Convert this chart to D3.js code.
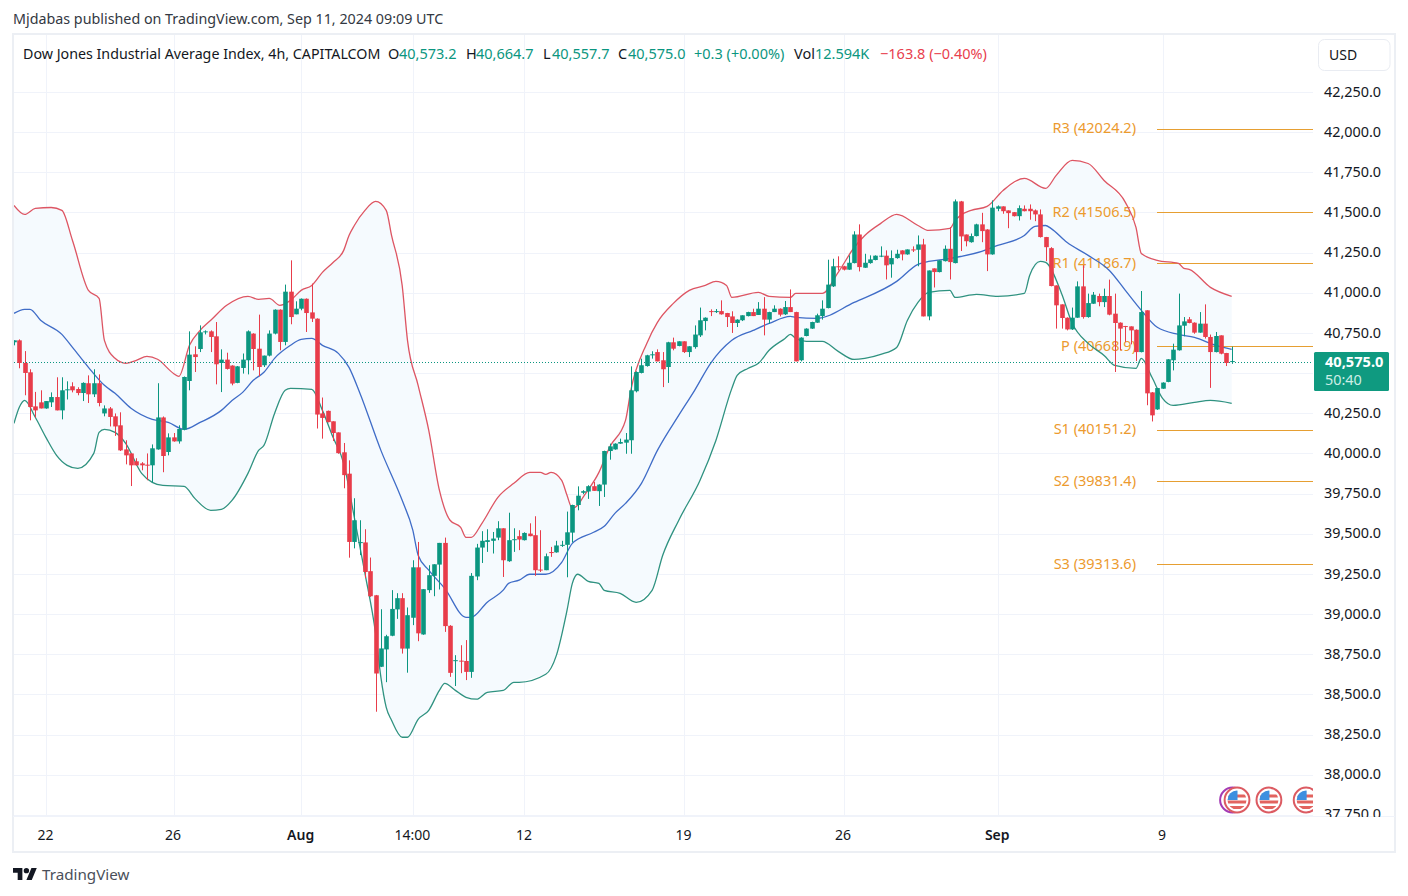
<!DOCTYPE html>
<html>
<head>
<meta charset="utf-8">
<title>Dow Jones 4h</title>
<script src="https://cdn.jsdelivr.net/npm/d3@7"></script>
<style>
  html, body { margin: 0; background: #fff; }
  svg { display: block; }
  text { font-family: "Noto Sans", sans-serif; }
</style>
</head>
<body>
<script>
var opens = [
  40692,40704,40563,40505,40293,40318,40280,40318,40351,40268,
  40396,40418,40401,40376,40437,40368,40437,40249,40280,40231,
  40175,40025,40000,39951,39938,39930,39926,40025,40224,40009,
  40100,40075,40148,40451,40617,40650,40754,40760,40729,40563,
  40584,40547,40439,40532,40580,40746,40652,40549,40609,40746,
  40895,40694,41007,40866,40901,40963,40878,40839,40249,40265,
  40200,40131,40007,39874,39449,39444,39446,39267,39117,38672,
  38780,38865,39029,39099,38785,38977,39291,38873,39149,39238,
  39308,39443,38927,38710,38710,38708,38640,39234,39414,39449,
  39456,39476,39534,39329,39463,39485,39460,39501,39491,39277,
  39273,39386,39384,39429,39431,39507,39679,39755,39763,39796,
  39765,39806,40015,40025,40061,40067,40082,40387,40501,40544,
  40611,40631,40580,40538,40692,40669,40698,40631,40662,40735,
  40824,40886,40884,40886,40874,40853,40812,40829,40855,40880,
  40862,40901,40833,40880,40901,40866,40911,40880,40580,40731,
  40777,40814,40855,40905,41040,41165,41165,41144,41185,41363,
  41156,41185,41204,41230,41231,41177,41216,41264,41239,41270,
  41268,41301,40853,41152,41129,41197,41274,41185,41569,41363,
  41315,41353,41426,41394,41239,41523,41538,41513,41502,41477,
  41523,41523,41513,41488,41347,41278,41046,40928,40845,40772,
  40845,41040,40849,40932,40980,40942,40980,40870,40814,40793,
  40791,40770,40631,40891,40380,40274,40403,40445,40580,40642,
  40795,40835,40814,40752,40808,40725,40631,40735,40625,40573.2];

var highs = [
  40704,40710,40637,40524,40383,40393,40326,40380,40474,40474,
  40449,40443,40412,40443,40486,40524,40492,40299,40289,40249,
  40256,40082,40002,39970,39946,40000,40056,40437,40230,40125,
  40127,40175,40479,40760,40667,40797,40766,40766,40818,40648,
  40627,40549,40544,40622,40766,40748,40864,40609,40766,40897,
  40897,41051,41202,40947,40965,40965,41057,40841,40348,40267,
  40200,40131,40065,39957,39721,39584,39528,39352,39119,39030,
  38871,39149,39130,39130,39041,39335,39449,39155,39304,39310,
  39443,39476,38931,38744,38806,38838,39255,39437,39516,39528,
  39511,39578,39534,39631,39534,39522,39509,39565,39609,39522,
  39377,39418,39456,39456,39638,39681,39795,39771,39802,39822,
  39808,40017,40061,40063,40092,40127,40542,40511,40590,40614,
  40636,40648,40631,40695,40721,40698,40698,40667,40797,40908,
  40847,40897,40899,40953,40875,40885,40835,40860,40882,40901,
  40942,40973,40882,40922,40903,40949,41021,40882,40723,40779,
  40820,40870,40953,41206,41212,41227,41168,41233,41383,41426,
  41243,41233,41233,41289,41264,41264,41268,41265,41270,41289,
  41357,41336,41139,41152,41202,41295,41409,41581,41572,41363,
  41369,41430,41498,41396,41575,41544,41538,41513,41503,41544,
  41544,41550,41519,41519,41348,41284,41046,40928,40847,40908,
  41071,41171,40995,41005,40995,41026,41082,40995,40816,40794,
  40791,40772,41011,40891,40382,40408,40443,40587,40683,40995,
  40849,40849,40816,40880,40928,40740,40756,40735,40626,40664.7];

var lows = [
  40673,40530,40362,40206,40224,40280,40278,40289,40268,40212,
  40336,40380,40362,40326,40314,40351,40293,40231,40168,40109,
  40015,39932,39797,39924,39895,39833,39820,40023,39883,39988,
  40073,40061,40144,40393,40507,40631,40741,40631,40430,40382,
  40522,40424,40437,40497,40492,40517,40480,40538,40604,40741,
  40642,40673,40804,40866,40891,40756,40818,40155,40092,40193,
  40077,39998,39783,39351,39409,39367,39224,39107,38392,38670,
  38576,38862,38970,38754,38635,38931,38831,38871,39132,39111,
  39153,38889,38609,38552,38632,38589,38603,39211,39318,39387,
  39377,39460,39231,39325,39387,39398,39458,39484,39238,39262,
  39273,39356,39382,39418,39229,39446,39646,39746,39717,39767,
  39673,39729,39961,40023,40060,39998,39998,40380,40498,40540,
  40590,40573,40413,40439,40642,40667,40625,40600,40652,40725,
  40766,40855,40874,40864,40787,40750,40787,40824,40853,40855,
  40862,40735,40808,40880,40853,40862,40880,40573,40573,40729,
  40775,40813,40833,40903,41036,41139,41139,41143,41183,41133,
  41155,41181,41202,41222,41083,41094,41212,41202,41237,41254,
  41165,40853,40829,41033,41127,41195,41083,41183,41260,41289,
  41312,41351,41315,41135,41237,41508,41492,41402,41475,41450,
  41507,41455,41446,41344,41197,41040,40777,40777,40766,40769,
  40844,40839,40845,40931,40916,40911,40860,40507,40642,40694,
  40679,40575,40629,40300,40199,40271,40402,40443,40517,40640,
  40729,40810,40745,40751,40715,40408,40629,40617,40544,40557.7];

var closes = [
  40704,40563,40501,40289,40268,40280,40326,40351,40268,40393,
  40399,40393,40376,40439,40368,40437,40314,40280,40227,40168,
  40019,39988,39926,39926,39926,39924,40032,40224,39984,40100,
  40075,40152,40476,40615,40600,40754,40760,40725,40555,40584,
  40526,40435,40542,40584,40760,40650,40538,40609,40746,40895,
  40694,41007,40849,40901,40963,40874,40839,40242,40221,40195,
  40127,40002,39865,39449,39584,39448,39262,39111,38630,38786,
  38862,39032,39099,38785,38993,39291,38880,39155,39242,39310,
  39443,38925,38634,38713,38707,38640,39238,39414,39456,39460,
  39470,39534,39335,39460,39466,39464,39505,39485,39273,39276,
  39360,39380,39427,39431,39509,39679,39737,39765,39796,39767,
  39806,40015,40044,40061,40071,40086,40393,40507,40549,40611,
  40617,40573,40524,40692,40652,40698,40631,40667,40740,40829,
  40845,40884,40886,40866,40849,40812,40833,40860,40880,40855,
  40901,40833,40880,40901,40864,40911,40880,40573,40721,40777,
  40818,40860,40901,41051,41165,41162,41144,41187,41363,41160,
  41187,41208,41231,41231,41171,41216,41243,41239,41270,41267,
  41301,40853,41139,41129,41202,41274,41191,41569,41351,41321,
  41353,41426,41384,41239,41530,41538,41508,41496,41477,41527,
  41508,41508,41488,41347,41284,41042,40922,40843,40772,40845,
  41040,40849,40936,40988,40942,40980,40864,40812,40777,40789,
  40766,40631,40880,40374,40237,40407,40441,40586,40646,40797,
  40822,40812,40752,40808,40725,40631,40731,40621,40563,40575.0];

var bbUpper = [[0,41544],[2,41488],[4,41525],[7,41531],[9,41513],[11,41326],[14,41015],[16,40965],[17,40704],[19,40592],
  [21,40561],[23,40580],[25,40604],[27,40586],[30,40498],[31,40480],[33,40673],[35,40766],[37,40829],[40,40922],
  [44,40978],[46,40959],[48,40965],[50,40922],[52,40953],[54,41015],[56,41046],[58,41127],[60,41189],[62,41264],
  [63,41357],[64,41419],[66,41513],[68,41569],[70,41513],[71,41357],[73,41046],[74,40704],[76,40424],[78,40144],
  [80,39771],[82,39584],[84,39540],[85,39478],[86,39478],[88,39565],[91,39727],[94,39814],[97,39882],[99,39882],
  [100,39870],[101,39882],[103,39832],[104,39739],[105,39658],[106,39677],[107,39727],[110,39882],[112,40038],[115,40206],
  [116,40393],[119,40685],[121,40816],[124,40934],[127,41015],[130,41046],[132,41071],[134,41046],[135,40971],[140,41002],
  [142,40978],[146,40971],[147,40996],[152,40996],[155,41127],[158,41282],[160,41357],[163,41432],[166,41488],[170,41419],
  [172,41388],[176,41401],[177,41450],[178,41482],[180,41513],[183,41538],[186,41637],[190,41712],[194,41650],[196,41731],
  [199,41824],[202,41805],[205,41699],[209,41563],[211,41407],[212,41245],[215,41202],[219,41183],[220,41152],[221,41146],
  [225,41034],[229,40978]];

var bbBasis = [[0,40872],[2,40897],[3,40897],[5,40829],[9,40741],[11,40660],[14,40536],[17,40424],[19,40374],[22,40281],
  [26,40212],[29,40193],[32,40150],[35,40193],[39,40268],[41,40330],[43,40380],[45,40455],[47,40505],[49,40592],
  [52,40673],[54,40710],[56,40716],[58,40673],[61,40623],[63,40536],[65,40380],[69,40019],[73,39708],[75,39522],
  [76,39366],[78,39273],[81,39160],[85,38980],[86,38980],[89,39074],[92,39149],[93,39191],[95,39211],[97,39248],
  [100,39248],[103,39322],[105,39440],[109,39509],[111,39546],[113,39627],[115,39689],[118,39814],[121,40019],[125,40237],
  [128,40393],[131,40561],[135,40704],[139,40766],[142,40809],[146,40853],[147,40847],[151,40841],[158,40940],[166,41071],
  [170,41177],[172,41195],[175,41208],[178,41226],[182,41258],[185,41295],[190,41357],[192,41413],[194,41419],[195,41401],
  [198,41314],[202,41233],[206,41139],[209,41015],[212,40891],[215,40785],[219,40741],[222,40722],[226,40673],[229,40648]];

var bbLower = [[0,40187],[1,40287],[2,40330],[4,40225],[6,40100],[8,39988],[10,39926],[12,39907],[15,40000],[16,40131],
  [17,40150],[19,40131],[21,40063],[24,39876],[26,39820],[28,39801],[32,39795],[34,39720],[37,39646],[39,39652],
  [41,39708],[44,39876],[46,40019],[47,40050],[49,40249],[51,40393],[52,40405],[56,40399],[58,40268],[60,40100],
  [62,39938],[64,39602],[66,39254],[68,38880],[69,38606],[70,38419],[71,38339],[73,38233],[74,38233],[76,38345],
  [78,38401],[80,38525],[81,38569],[83,38525],[85,38482],[87,38470],[89,38513],[92,38525],[94,38575],[95,38575],
  [100,38625],[102,38743],[104,39023],[105,39191],[106,39248],[108,39204],[110,39191],[111,39148],[114,39129],[117,39073],
  [120,39148],[122,39366],[125,39583],[129,39832],[132,40081],[135,40405],[136,40486],[138,40529],[140,40561],[142,40642],
  [145,40716],[146,40741],[147,40716],[149,40697],[152,40697],[155,40635],[158,40585],[160,40592],[163,40617],[166,40660],
  [168,40828],[170,40940],[172,41002],[176,41015],[177,40971],[181,40990],[185,40978],[190,40996],[191,41108],[193,41195],
  [194,41189],[197,40996],[199,40810],[202,40685],[205,40610],[207,40548],[211,40529],[212,40592],[214,40474],[216,40343],
  [218,40299],[222,40318],[225,40330],[229,40312]];

var pivotNames = ["R3", "R2", "R1", "P", "S1", "S2", "S3"];
var pivotValues = [42024.2, 41506.5, 41186.7, 40668.9, 40151.2, 39831.4, 39313.6];

var priceTicks = d3.range(37750, 42251, 250);
var hiddenTick = 40500; // sits behind the last price tag
var timeIndex = [6, 30, 54, 75, 96, 126, 156, 185, 216];
var timeLabels = ["22", "26", "Aug", "14:00", "12", "19", "26", "Sep", "9"];
var boldLabels = ["Aug", "Sep"];
var eventIndex = [230, 236, 243];
var lastPrice = 40575.0;

var upColor = "#0b9680", downColor = "#e83c4a", gridColor = "#f0f3fa", textColor = "#131722";
var pivotColor = "#e69f32";

var svg = d3.select("body").append("svg").attr("width", 1408).attr("height", 896);

var x = d3.scaleLinear().domain([0, 229]).range([14, 1231.7]);
var y = d3.scaleLinear().domain([42250, 38000]).range([92, 774.7]);

var defs = svg.append("defs");
defs.append("clipPath").attr("id", "pane").append("rect")
  .attr("x", 14).attr("y", 35).attr("width", 1299).attr("height", 781);
defs.append("clipPath").attr("id", "priceClip").append("rect")
  .attr("x", 1313).attr("y", 72).attr("width", 80).attr("height", 745);

// frame
svg.append("rect").attr("x", 13).attr("y", 34).attr("width", 1382).attr("height", 818)
  .attr("fill", "#fff").attr("stroke", "#eceff4").attr("stroke-width", 2);
svg.append("line").attr("x1", 13).attr("x2", 1395).attr("y1", 816.5).attr("y2", 816.5)
  .attr("stroke", gridColor);

var pane = svg.append("g").attr("clip-path", "url(#pane)");

// grid
pane.selectAll(".hgrid").data(priceTicks).enter().append("line").attr("class", "hgrid")
  .attr("x1", 14).attr("x2", 1313)
  .attr("y1", function (d) { return Math.round(y(d)) + 0.5; })
  .attr("y2", function (d) { return Math.round(y(d)) + 0.5; })
  .attr("stroke", gridColor);
pane.selectAll(".vgrid").data(timeIndex).enter().append("line").attr("class", "vgrid")
  .attr("x1", function (d) { return Math.round(x(d)) + 0.5; })
  .attr("x2", function (d) { return Math.round(x(d)) + 0.5; })
  .attr("y1", 35).attr("y2", 816)
  .attr("stroke", gridColor);

// band fill
var bandLine = d3.line()
  .x(function (d) { return x(d[0]); })
  .y(function (d) { return y(d[1]); });
pane.append("path")
  .attr("d", bandLine(bbUpper.concat(bbLower.slice().reverse())) + "Z")
  .attr("fill", "#f5fafe");

// pivots sit under the candles
pane.selectAll(".pivot").data(pivotValues).enter().append("line").attr("class", "pivot")
  .attr("x1", 1157).attr("x2", 1313)
  .attr("y1", function (d) { return Math.round(y(d) + 0.5) + 0.5; })
  .attr("y2", function (d) { return Math.round(y(d) + 0.5) + 0.5; })
  .attr("stroke", pivotColor).attr("stroke-width", 1.2);
pane.selectAll(".pivotLabel").data(pivotValues).enter().append("text").attr("class", "pivotLabel")
  .attr("x", 1136)
  .attr("y", function (d) { return y(d); })
  .attr("dy", "0.36em")
  .attr("text-anchor", "end")
  .attr("font-size", 14.5)
  .attr("fill", "#ec9a2e")
  .text(function (d, i) { return pivotNames[i] + " (" + d + ")"; });

// band lines
var curved = d3.line()
  .x(function (d) { return x(d[0]); })
  .y(function (d) { return y(d[1]); })
  .curve(d3.curveMonotoneX);
[[bbUpper, "#dd5563"], [bbBasis, "#3f6cc7"], [bbLower, "#2f9280"]].forEach(function (b) {
  pane.append("path").attr("d", curved(b[0])).attr("fill", "none")
    .attr("stroke", b[1]).attr("stroke-width", 1.3);
});

// last price line
pane.append("line")
  .attr("x1", 14).attr("x2", 1313)
  .attr("y1", Math.round(y(lastPrice) + 0.5) + 0.5).attr("y2", Math.round(y(lastPrice) + 0.5) + 0.5)
  .attr("stroke", upColor).attr("stroke-dasharray", "1,2");

// candles
var bars = d3.range(closes.length);
var colorOf = function (i) { return closes[i] >= opens[i] ? upColor : downColor; };
pane.selectAll(".wick").data(bars).enter().append("line").attr("class", "wick")
  .attr("x1", function (i) { return Math.round(x(i)) + 0.5; })
  .attr("x2", function (i) { return Math.round(x(i)) + 0.5; })
  .attr("y1", function (i) { return y(highs[i]); })
  .attr("y2", function (i) { return y(lows[i]); })
  .attr("stroke", colorOf);
pane.selectAll(".body").data(bars).enter().append("rect").attr("class", "body")
  .attr("x", function (i) { return Math.round(x(i)) + 0.5 - 2.3; })
  .attr("width", 4.6)
  .attr("y", function (i) { return y(Math.max(opens[i], closes[i])); })
  .attr("height", function (i) { return Math.max(1, Math.abs(y(opens[i]) - y(closes[i]))); })
  .attr("fill", colorOf);

// event flags
function drawFlag(g) {
  g.append("circle").attr("r", 12.4).attr("fill", "#fff").attr("stroke", "#dc5b62").attr("stroke-width", 2);
  var inner = g.append("g").attr("clip-path", "url(#flagClip)");
  inner.append("rect").attr("x", -10).attr("y", -10).attr("width", 20).attr("height", 20).attr("fill", "#fff");
  [-5.5, 0.5, 6].forEach(function (s) {
    inner.append("rect").attr("x", -10).attr("y", s).attr("width", 20).attr("height", 3).attr("fill", "#e2635f");
  });
  inner.append("rect").attr("x", -10).attr("y", -10).attr("width", 10.5).attr("height", 10).attr("fill", "#3d8fe0");
}
defs.append("clipPath").attr("id", "flagClip").append("circle").attr("r", 9.5);
pane.append("circle").attr("cx", x(eventIndex[0]) - 4.5).attr("cy", 800).attr("r", 12.4)
  .attr("fill", "#fff").attr("stroke", "#a43bb4").attr("stroke-width", 2);
eventIndex.forEach(function (d) {
  drawFlag(pane.append("g").attr("transform", "translate(" + x(d) + ",800)"));
});

// price axis
var priceAxis = svg.append("g").attr("clip-path", "url(#priceClip)").append("g")
  .attr("transform", "translate(1324,-0.5)")
  .call(d3.axisRight(y).tickValues(priceTicks.filter(function (d) { return d !== hiddenTick; }))
    .tickFormat(d3.format(",.1f")).tickSize(0).tickPadding(0));
priceAxis.select(".domain").remove();
priceAxis.selectAll("text").attr("font-size", 14.4).attr("fill", textColor)
  .style("font-family", '"Noto Sans", sans-serif');

// time axis
var timeAxis = svg.append("g")
  .attr("transform", "translate(-1,830)")
  .call(d3.axisBottom(x).tickValues(timeIndex).tickFormat(function (d, i) { return timeLabels[i]; }).tickSize(0).tickPadding(0));
timeAxis.select(".domain").remove();
timeAxis.selectAll("text").attr("font-size", 14).attr("fill", textColor)
  .style("font-family", '"Noto Sans", sans-serif')
  .attr("font-weight", function (d, i) { return boldLabels.indexOf(timeLabels[i]) >= 0 ? 600 : 400; });

// last price tag
svg.append("rect").attr("x", 1314).attr("y", 352).attr("width", 75).attr("height", 39).attr("rx", 1.5).attr("fill", "#0f9a80");
svg.append("text").attr("x", 1325).attr("y", 367).attr("font-size", 14.6).attr("font-weight", 700)
  .attr("fill", "#fff").text(d3.format(",.1f")(lastPrice));
svg.append("text").attr("x", 1325).attr("y", 385).attr("font-size", 14.4)
  .attr("fill", "#cdeee6").text("50:40");

// currency button
svg.append("rect").attr("x", 1318.5).attr("y", 39.5).attr("width", 71.5).attr("height", 31).attr("rx", 6)
  .attr("fill", "#fff").attr("stroke", "#e9ecf2");
svg.append("text").attr("x", 1329).attr("y", 60).attr("font-size", 14).attr("fill", textColor).text("USD");

// header and legend
svg.append("text").attr("x", 13).attr("y", 24).attr("font-size", 14.3).attr("fill", "#333842")
  .text("Mjdabas published on TradingView.com, Sep 11, 2024 09:09 UTC");

var legendText = ["Dow Jones Industrial Average Index, 4h, CAPITALCOM", "O", "40,573.2", "H", "40,664.7", "L", "40,557.7", "C", "40,575.0", "+0.3 (+0.00%)", "Vol", "12.594K", "\u2212163.8 (\u22120.40%)"];
var legendX = [23, 388, 399, 466, 476, 543, 552, 618, 628, 694, 794, 815, 880];
var legendKind = ["k", "k", "g", "k", "g", "k", "g", "k", "g", "g", "k", "g", "r"];
var legendColor = { k: textColor, g: "#0b9680", r: "#e8404d" };
svg.selectAll(".legend").data(legendText).enter().append("text").attr("class", "legend")
  .attr("x", function (d, i) { return legendX[i]; })
  .attr("y", 59)
  .attr("font-size", function (d, i) { return i === 0 ? 14.25 : 14.5; })
  .attr("fill", function (d, i) { return legendColor[legendKind[i]]; })
  .text(function (d) { return d; });

// footer logo
var logo = svg.append("g").attr("transform", "translate(13,865.3) scale(0.67)").attr("fill", "#131722");
logo.append("path").attr("d", "M14 22H7V11H0V4h14v18zM28 22h-8l7.5-18h8L28 22z");
logo.append("circle").attr("cx", 20).attr("cy", 8).attr("r", 4);
svg.append("text").attr("x", 42).attr("y", 880).attr("font-size", 15.2).attr("fill", "#4a4f5a").text("TradingView");
</script>
</body>
</html>
